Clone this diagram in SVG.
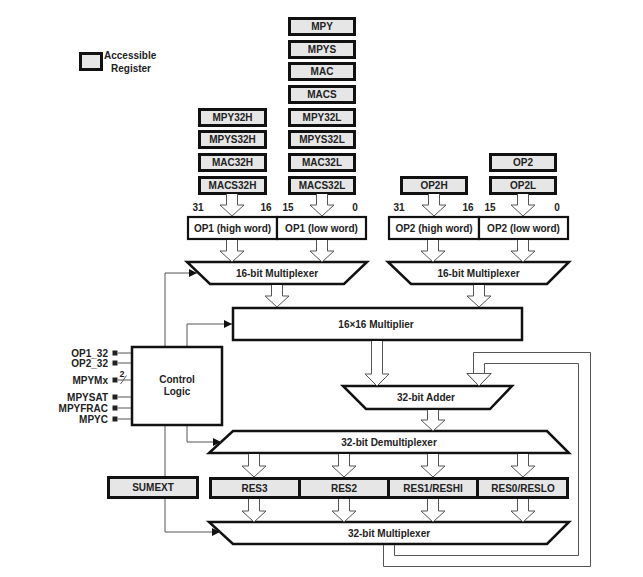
<svg xmlns="http://www.w3.org/2000/svg" width="643" height="577" viewBox="0 0 643 577">
<defs>
<style>
text{font-family:"Liberation Sans",Arial,Helvetica,sans-serif;font-weight:bold;font-size:10px;fill:#222;}
.c{text-anchor:middle;}
.r{text-anchor:end;}
.reg{fill:#e6e6e6;stroke:#111;stroke-width:3;}
.box{fill:#fff;stroke:#111;stroke-width:2.2;}
.blk{fill:#fff;stroke:#111;stroke-width:2.5;}
.ha{fill:#fff;stroke:#555;stroke-width:1;}
.ln{fill:none;stroke:#555;stroke-width:1;}
.pin{fill:#222;}
</style>
<marker id="ah" viewBox="0 0 8 8" refX="8" refY="4" markerWidth="8" markerHeight="8" markerUnits="userSpaceOnUse" orient="auto">
<path d="M0,0 L8,4 L0,8 z" fill="#111"/>
</marker>
</defs>
<rect width="643" height="577" fill="#fff"/>

<g id="legend">
<rect class="reg" x="80.5" y="53.5" width="21" height="16"/>
<text x="104" y="59">Accessible</text>
<text class="c" x="131" y="72">Register</text>
</g>

<g id="regs-right">
<g id="MPY"><rect class="reg" x="289.5" y="18.5" width="65" height="16"/><text class="c" x="322" y="30">MPY</text></g>
<g id="MPYS"><rect class="reg" x="289.5" y="41.5" width="65" height="16"/><text class="c" x="322" y="53">MPYS</text></g>
<g id="MAC"><rect class="reg" x="289.5" y="63.5" width="65" height="16"/><text class="c" x="322" y="75">MAC</text></g>
<g id="MACS"><rect class="reg" x="289.5" y="86.5" width="65" height="16"/><text class="c" x="322" y="98">MACS</text></g>
<g id="MPY32L"><rect class="reg" x="289.5" y="109.5" width="65" height="16"/><text class="c" x="322" y="121">MPY32L</text></g>
<g id="MPYS32L"><rect class="reg" x="289.5" y="131.5" width="65" height="16"/><text class="c" x="322" y="143">MPYS32L</text></g>
<g id="MAC32L"><rect class="reg" x="289.5" y="154.5" width="65" height="16"/><text class="c" x="322" y="166">MAC32L</text></g>
<g id="MACS32L"><rect class="reg" x="289.5" y="177.5" width="65" height="16"/><text class="c" x="322" y="189">MACS32L</text></g>
</g>
<g id="regs-left">
<g id="MPY32H"><rect class="reg" x="199.5" y="109.5" width="66" height="16"/><text class="c" x="232.5" y="121">MPY32H</text></g>
<g id="MPYS32H"><rect class="reg" x="199.5" y="131.5" width="66" height="16"/><text class="c" x="232.5" y="143">MPYS32H</text></g>
<g id="MAC32H"><rect class="reg" x="199.5" y="154.5" width="66" height="16"/><text class="c" x="232.5" y="166">MAC32H</text></g>
<g id="MACS32H"><rect class="reg" x="199.5" y="177.5" width="66" height="16"/><text class="c" x="232.5" y="189">MACS32H</text></g>
</g>
<g id="OP2"><rect class="reg" x="490.5" y="154.5" width="65" height="16"/><text class="c" x="523" y="166">OP2</text></g>
<g id="OP2L"><rect class="reg" x="490.5" y="177.5" width="65" height="16"/><text class="c" x="523" y="189">OP2L</text></g>
<g id="OP2H"><rect class="reg" x="401.5" y="177.5" width="65" height="16"/><text class="c" x="434" y="189">OP2H</text></g>

<g id="bits">
<text class="c" x="198" y="211">31</text>
<text class="c" x="266" y="211">16</text>
<text class="c" x="288" y="211">15</text>
<text class="c" x="355" y="211">0</text>
<text class="c" x="399" y="211">31</text>
<text class="c" x="468" y="211">16</text>
<text class="c" x="490" y="211">15</text>
<text class="c" x="557" y="211">0</text>
</g>

<g id="OP1H"><rect class="box" x="188" y="217" width="89" height="22"/><text class="c" x="232.5" y="231.5">OP1 (high word)</text></g>
<g id="OP1L"><rect class="box" x="277" y="217" width="89" height="22"/><text class="c" x="321.5" y="231.5">OP1 (low word)</text></g>
<g id="OP2HW"><rect class="box" x="389" y="217" width="90" height="22"/><text class="c" x="434" y="231.5">OP2 (high word)</text></g>
<g id="OP2LW"><rect class="box" x="479" y="217" width="89" height="22"/><text class="c" x="523.5" y="231.5">OP2 (low word)</text></g>

<g id="mux1"><polygon class="blk" points="187,262 367,262 344,284 210,284"/><text class="c" x="277" y="276.5">16-bit Multiplexer</text></g>
<g id="mux2"><polygon class="blk" points="388,262 569,262 547,284 411,284"/><text class="c" x="478.5" y="276.5">16-bit Multiplexer</text></g>
<g id="multiplier"><rect class="blk" x="233" y="308" width="289" height="32"/><text class="c" x="376" y="327.5">16×16 Multiplier</text></g>
<g id="adder"><polygon class="blk" points="343,386 512,386 490,409 366,409"/><text class="c" x="426" y="400.5">32-bit Adder</text></g>
<g id="demux"><polygon class="blk" points="233,431 547,431 569,453 209,453"/><text class="c" x="389" y="445.5">32-bit Demultiplexer</text></g>
<g id="RES3"><rect class="reg" x="210.5" y="478.5" width="89" height="19"/><text class="c" x="254.5" y="491.5">RES3</text></g>
<g id="RES2"><rect class="reg" x="299.5" y="478.5" width="89" height="19"/><text class="c" x="344" y="491.5">RES2</text></g>
<g id="RES1"><rect class="reg" x="388.5" y="478.5" width="89" height="19"/><text class="c" x="433" y="491.5">RES1/RESHI</text></g>
<g id="RES0"><rect class="reg" x="477.5" y="478.5" width="90" height="19"/><text class="c" x="523" y="491.5">RES0/RESLO</text></g>
<g id="mux32"><polygon class="blk" points="209,522 569,522 547,544 233,544"/><text class="c" x="389" y="536.5">32-bit Multiplexer</text></g>

<g id="connectors">
<path class="ln" d="M165,346 V273 H197" marker-end="url(#ah)"/>
<path class="ln" d="M187,346 V324 H232" marker-end="url(#ah)"/>
<path class="ln" d="M187,426 V442 H221" marker-end="url(#ah)"/>
<path class="ln" d="M165,426 V532 H220" marker-end="url(#ah)"/>
<path class="ha" d="M226.5,194 V205 H220 L232,216 L244,205 H237.5 V194"/>
<path class="ha" d="M316.5,194 V205 H310 L322,216 L334,205 H327.5 V194"/>
<path class="ha" d="M428.5,194 V205 H422 L434,216 L446,205 H439.5 V194"/>
<path class="ha" d="M517.5,194 V205 H511 L523,216 L535,205 H528.5 V194"/>
<path class="ha" d="M226.5,240 V251 H220 L232,262 L244,251 H237.5 V240"/>
<path class="ha" d="M316.5,240 V251 H310 L322,262 L334,251 H327.5 V240"/>
<path class="ha" d="M427.5,240 V251 H421 L433,262 L445,251 H438.5 V240"/>
<path class="ha" d="M517.5,240 V251 H511 L523,262 L535,251 H528.5 V240"/>
<path class="ha" d="M271.5,285 V296 H265 L277,307 L289,296 H282.5 V285"/>
<path class="ha" d="M473.5,285 V296 H467 L479,307 L491,296 H484.5 V285"/>
<path class="ha" d="M371.5,341 V374 H365 L377,386 L389,374 H382.5 V341"/>
<path class="ha" d="M427.5,410 V420 H421 L433,431 L445,420 H438.5 V410"/>
<path class="ha" d="M248.5,454 V466 H242 L254,477 L266,466 H259.5 V454"/>
<path class="ha" d="M338.5,454 V466 H332 L344,477 L356,466 H349.5 V454"/>
<path class="ha" d="M427.5,454 V466 H421 L433,477 L445,466 H438.5 V454"/>
<path class="ha" d="M517.5,454 V466 H511 L523,477 L535,466 H528.5 V454"/>
<path class="ha" d="M248.5,499 V511 H242 L254,522 L266,511 H259.5 V499"/>
<path class="ha" d="M338.5,499 V511 H332 L344,522 L356,511 H349.5 V499"/>
<path class="ha" d="M427.5,499 V511 H421 L433,522 L445,511 H438.5 V499"/>
<path class="ha" d="M517.5,499 V511 H511 L523,522 L535,511 H528.5 V499"/>
<path class="ha" fill="none" style="fill:none" d="M383.5,545 V566.5 H590.5 V352.5 H473.5 V373.5 H467 L479,386 L491,373.5 H484.5 V363.5 H578.5 V555.5 H394.5 V545"/>
<path d="M467,373.5 L479,386 L491,373.5 Z" fill="#fff" stroke="#555" stroke-width="1"/>
</g>

<g id="control">
<rect class="blk" x="132" y="347" width="90" height="78"/>
<text class="c" x="177" y="383">Control</text>
<text class="c" x="177" y="395">Logic</text>
</g>
<g id="pins">
<line class="ln" x1="118" y1="353" x2="131" y2="353"/>
<line class="ln" x1="118" y1="363" x2="131" y2="363"/>
<line class="ln" x1="118" y1="380" x2="131" y2="380"/>
<line class="ln" x1="118" y1="397" x2="131" y2="397"/>
<line class="ln" x1="118" y1="408" x2="131" y2="408"/>
<line class="ln" x1="118" y1="419" x2="131" y2="419"/>
<line class="ln" x1="120.5" y1="384" x2="126.5" y2="375.5"/>
<text x="119.5" y="377" style="font-size:9px">2</text>
<rect class="pin" x="112.5" y="350.5" width="5" height="5"/>
<rect class="pin" x="112.5" y="360.5" width="5" height="5"/>
<rect class="pin" x="112.5" y="377.5" width="5" height="5"/>
<rect class="pin" x="112.5" y="394.5" width="5" height="5"/>
<rect class="pin" x="112.5" y="405.5" width="5" height="5"/>
<rect class="pin" x="112.5" y="416.5" width="5" height="5"/>
<text class="r" x="108" y="356.5">OP1_32</text>
<text class="r" x="108" y="366.5">OP2_32</text>
<text class="r" x="108" y="383.5">MPYMx</text>
<text class="r" x="108" y="400.5">MPYSAT</text>
<text class="r" x="108" y="411.5">MPYFRAC</text>
<text class="r" x="108" y="422.5">MPYC</text>
</g>
<g id="SUMEXT"><rect class="reg" x="108.5" y="477.5" width="89" height="20"/><text class="c" x="153" y="491">SUMEXT</text></g>
</svg>
